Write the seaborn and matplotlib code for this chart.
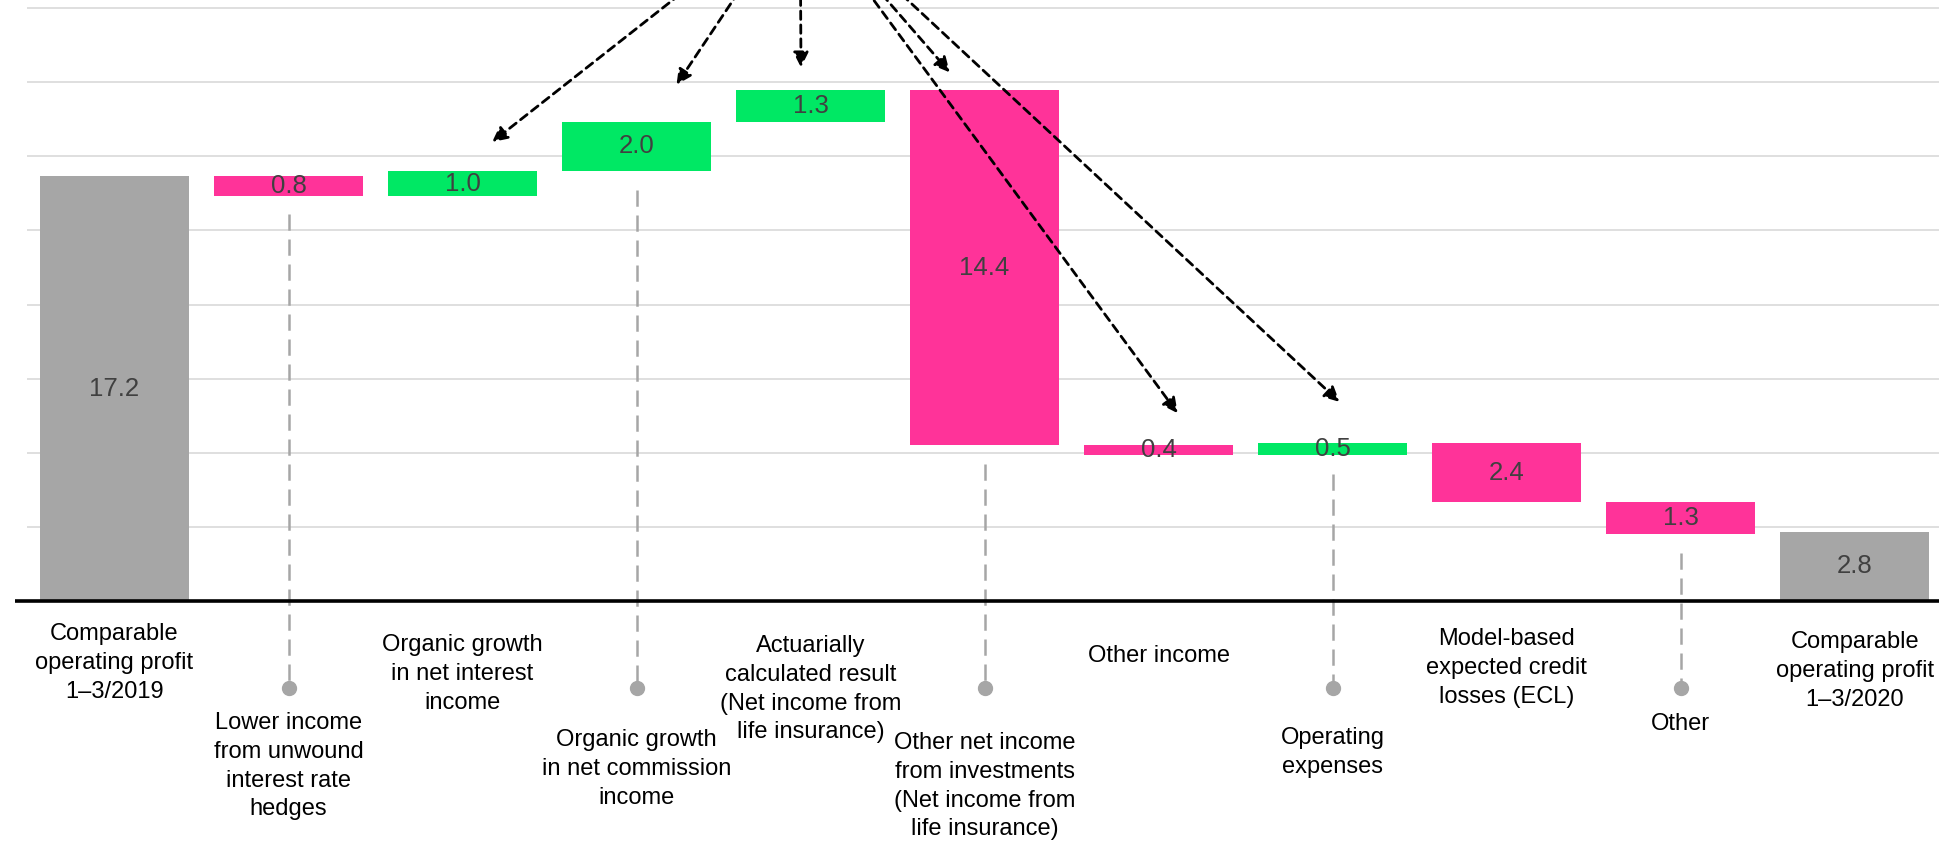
import numpy as np
import pandas as pd
import seaborn as sns
import matplotlib.pyplot as plt

# waterfall data
labels = [
    "Comparable\noperating profit\n1–3/2019",
    "Lower income\nfrom unwound\ninterest rate\nhedges",
    "Organic growth\nin net interest\nincome",
    "Organic growth\nin net commission\nincome",
    "Actuarially\ncalculated result\n(Net income from\nlife insurance)",
    "Other net income\nfrom investments\n(Net income from\nlife insurance)",
    "Other income",
    "Operating\nexpenses",
    "Model-based\nexpected credit\nlosses (ECL)",
    "Other",
    "Comparable\noperating profit\n1–3/2020",
]
values = [17.2, -0.8, 1.0, 2.0, 1.3, -14.4, -0.4, 0.5, -2.4, -1.3, 2.8]
kinds = ["total", "delta", "delta", "delta", "delta", "delta",
         "delta", "delta", "delta", "delta", "total"]

# layout only: first text line centre of each category label, px below top
label_line_px = [634, 723, 645, 740, 646, 743, 656, 738, 639, 724, 642]
# arrows: (target bar, dx, dy above bar top)
arrow_targets = [(2, 0.17, 1.18), (3, 0.23, 1.5), (4, -0.055, 0.9),
                 (5, -0.2, 0.7), (6, 0.11, 1.3), (7, 0.04, 1.66)]

GREY = "#a6a6a6"
PINK = "#ff3399"
GREEN = "#00e864"

# running levels
bottoms, heights, colors = [], [], []
level = 0.0
for v, k in zip(values, kinds):
    if k == "total":
        bottoms.append(0.0)
        heights.append(v)
        colors.append(GREY)
        level = v
    else:
        bottoms.append(min(level, level + v))
        heights.append(abs(v))
        colors.append(GREEN if v > 0 else PINK)
        level += v

df = pd.DataFrame({"step": [f"s{i}" for i in range(len(values))],
                   "height": heights})

sns.set_style("white")
plt.rcParams["font.family"] = ["Liberation Sans", "DejaVu Sans"]

fig = plt.figure(figsize=(19.39, 8.42), dpi=100)
ax = fig.add_axes([27 / 1939, 241 / 842, 1 - 27 / 1939, 601 / 842])

sns.barplot(data=df, x="step", y="height", hue="step", palette=colors,
            legend=False, errorbar=None, width=0.856, saturation=1, ax=ax,
            zorder=2)
for p, b in zip(ax.patches, bottoms):
    p.set_y(b)
    p.set_linewidth(0)

ax.set_xlim(-0.503, 10.485)
ax.set_ylim(0, 24.33)
ax.set_yticks(np.arange(3, 25, 3))
ax.yaxis.grid(True, color="#d9d9d9", lw=1.2, zorder=0)
ax.set_axisbelow(True)
ax.set_xticks([])
ax.set_yticklabels([])
ax.tick_params(left=False, bottom=False)
ax.set_xlabel("")
ax.set_ylabel("")
for s in ax.spines.values():
    s.set_visible(False)

# thick baseline
ax.plot([-0.572, 10.49], [0, 0], color="black", lw=2.6, clip_on=False,
        zorder=5, solid_capstyle="butt")

# values inside bars
for i, (b, h, v) in enumerate(zip(bottoms, heights, values)):
    ax.text(i, b + h / 2, f"{abs(v):.1f}", ha="center", va="center",
            fontsize=18.5, color="#404040", zorder=4)

# category labels + dashed leaders for the lower row
dot_y = -(688 - 601) / 24.7
for i, lab in enumerate(labels):
    top_pts = -(label_line_px[i] - 11 - 601) * 0.72
    ax.annotate(lab, xy=(i, 0), xytext=(0, top_pts), textcoords="offset points",
                ha="center", va="top", fontsize=17, color="black",
                annotation_clip=False, linespacing=1.4)
    if i % 2 == 1:
        ax.plot([i, i], [bottoms[i] - 0.75, dot_y], color=GREY, lw=1.8,
                dashes=(6.5, 3.5), clip_on=False, zorder=1)
        ax.plot(i, dot_y, "o", color=GREY, ms=10, clip_on=False, zorder=3)

# arrows from the (cropped) call-out above the chart
origin = ((800 - 114.5) / 174, (601 + 100) / 24.7)
for idx, dx, dy in arrow_targets:
    tip = (idx + dx, bottoms[idx] + heights[idx] + dy)
    ax.annotate("", xy=tip, xytext=origin, annotation_clip=False,
                arrowprops=dict(arrowstyle="-|>,head_length=0.9,head_width=0.45",
                                color="black", lw=2, linestyle=(0, (3, 2)),
                                shrinkA=0, shrinkB=0))

fig.savefig("out.png", dpi=100)
